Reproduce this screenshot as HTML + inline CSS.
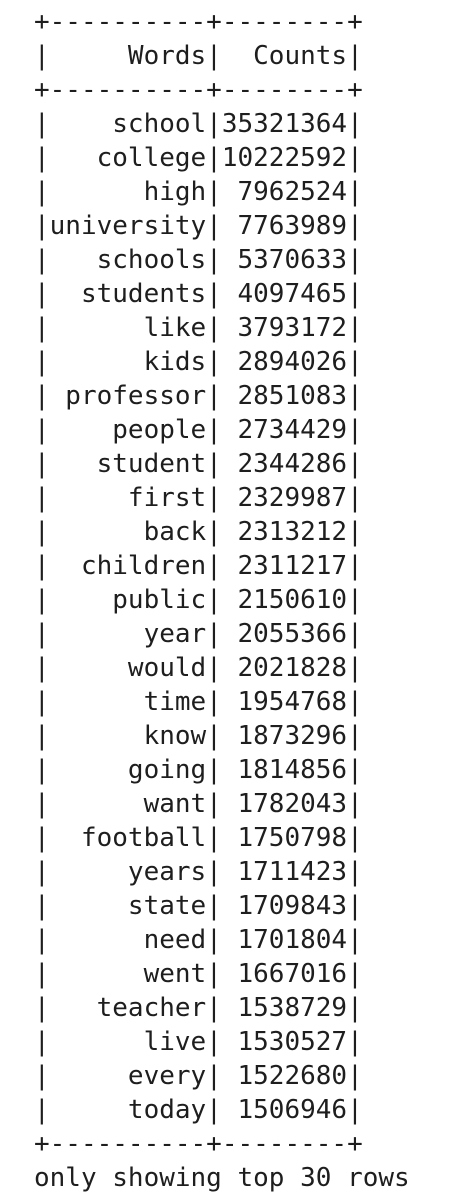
<!DOCTYPE html>
<html><head><meta charset="utf-8">
<style>
html,body{margin:0;padding:0;background:#fff;width:452px;height:1168px;overflow:hidden;}
pre{position:absolute;left:34px;top:5px;margin:0;font-family:"DejaVu Sans Mono","Liberation Mono",monospace;font-size:26px;line-height:34px;color:#1e1e1e;white-space:pre;}
</style></head>
<body>
<pre id="tbl"></pre>
<script>
const words = ["school","college","high","university","schools","students","like","kids","professor","people","student","first","back","children","public","year","would","time","know","going","want","football","years","state","need","went","teacher","live","every","today"];
const counts = [35321364,10222592,7962524,7763989,5370633,4097465,3793172,2894026,2851083,2734429,2344286,2329987,2313212,2311217,2150610,2055366,2021828,1954768,1873296,1814856,1782043,1750798,1711423,1709843,1701804,1667016,1538729,1530527,1522680,1506946];
const headers = ["Words","Counts"];
const footer = "only showing top 30 rows";

const pre = document.getElementById('tbl');
const pad = (s, n) => String(s).padStart(n, ' ');
const border = "+----------+--------+";
function addLine(text, name) {
  const s = document.createElement('span');
  
  
  s.textContent = text + "\n";
  pre.appendChild(s);
}
addLine(border, 'table-top-border');
addLine("|" + pad(headers[0],10) + "|" + pad(headers[1],8) + "|", 'header-row');
addLine(border, 'header-border');
for (let i = 0; i < words.length; i++) {
  addLine("|" + pad(words[i],10) + "|" + pad(counts[i],8) + "|", 'row-' + words[i]);
}
addLine(border, 'table-bottom-border');
addLine(footer, 'footer-note');
</script>
</body></html>
